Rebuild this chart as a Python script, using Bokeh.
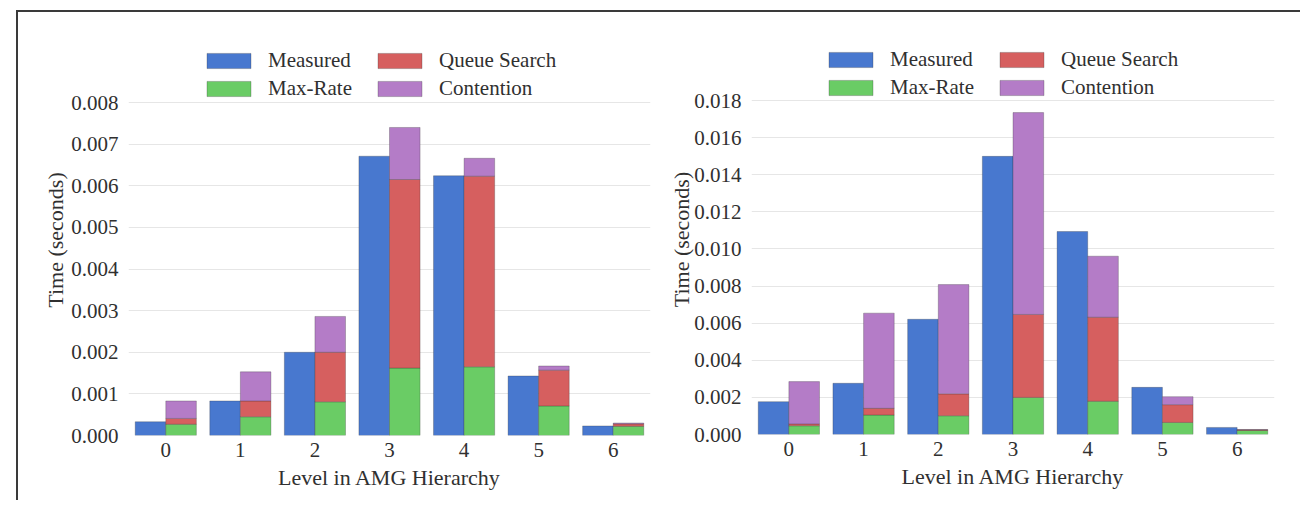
from bokeh.plotting import figure
from bokeh.models import (Legend, LegendItem, FixedTicker, PrintfTickFormatter,
                          ColumnDataSource, Range1d, InlineStyleSheet)
from bokeh.layouts import row
from bokeh.transform import dodge
from bokeh.embed import file_html
from bokeh.resources import INLINE

# ---------------- data ----------------
levels = [0, 1, 2, 3, 4, 5, 6]
level_labels = ["0", "1", "2", "3", "4", "5", "6"]

left_measured = [0.00033, 0.00083, 0.00200, 0.00671, 0.00624, 0.00143, 0.00023]
left_maxrate = [0.00027, 0.00045, 0.00081, 0.00162, 0.00165, 0.00071, 0.00022]
left_queue = [0.00014, 0.00038, 0.00119, 0.00453, 0.00458, 0.00086, 0.00006]
left_contention = [0.00042, 0.00070, 0.00086, 0.00125, 0.00043, 0.00010, 0.00002]
left_yticks = [0.000, 0.001, 0.002, 0.003, 0.004, 0.005, 0.006, 0.007, 0.008]

right_measured = [0.00177, 0.00276, 0.00621, 0.01499, 0.01094, 0.00254, 0.00038]
right_maxrate = [0.00047, 0.00105, 0.00101, 0.00200, 0.00179, 0.00065, 0.00022]
right_queue = [0.00010, 0.00036, 0.00118, 0.00447, 0.00453, 0.00096, 0.00003]
right_contention = [0.00228, 0.00513, 0.00589, 0.01088, 0.00329, 0.00043, 0.00002]
right_yticks = [0.000, 0.002, 0.004, 0.006, 0.008, 0.010, 0.012, 0.014, 0.016, 0.018]

series_names = ["Measured", "Max-Rate", "Queue Search", "Contention"]
x_label = "Level in AMG Hierarchy"
y_label = "Time (seconds)"

# ---------------- style ----------------
BLUE, GREEN, RED, PURPLE = "#4878CF", "#6ACC65", "#D65F5F", "#B47CC7"
TEXT = "#303030"
FONT = "Liberation Serif"


def make_chart(measured, maxrate, queue, contention, yticks, top_tick,
               mb_left, mb_right, fw, fh, tick_span_px, legend_loc, ylab_standoff):
    # extend the y range above the top tick so the legend sits inside the frame
    ymax = top_tick * fh / tick_span_px
    p = figure(x_range=Range1d(-0.5, 6.5), y_range=Range1d(0, ymax),
               frame_width=fw, frame_height=fh,
               min_border_left=mb_left, min_border_right=mb_right,
               min_border_top=44, min_border_bottom=62,
               output_backend="svg", toolbar_location=None)
    p.outline_line_color = None
    p.background_fill_color = "white"
    p.border_fill_color = "white"

    src = ColumnDataSource(dict(level=levels, measured=measured, maxrate=maxrate,
                                queue=queue, contention=contention))
    r_m = p.vbar(x=dodge("level", -0.205), top="measured", width=0.41, source=src,
                 fill_color=BLUE, line_color="#303030", line_alpha=0.35, line_width=0.8)
    rs = p.vbar_stack(["maxrate", "queue", "contention"], x=dodge("level", 0.205),
                      width=0.41, source=src, fill_color=[GREEN, RED, PURPLE],
                      line_color="#303030", line_alpha=0.35, line_width=0.8)

    # axes
    p.xaxis.ticker = FixedTicker(ticks=levels)
    p.xaxis.major_label_overrides = {l: s for l, s in zip(levels, level_labels)}
    p.yaxis.ticker = FixedTicker(ticks=yticks)
    p.yaxis.formatter = PrintfTickFormatter(format="%.3f")
    for ax in (p.xaxis[0], p.yaxis[0]):
        ax.axis_line_color = None
        ax.major_tick_line_color = None
        ax.minor_tick_line_color = None
        ax.major_label_text_font = FONT
        ax.major_label_text_font_size = "21px"
        ax.major_label_text_color = TEXT
        ax.axis_label_text_font = FONT
        ax.axis_label_text_font_size = "22px"
        ax.axis_label_text_font_style = "normal"
        ax.axis_label_text_color = TEXT
    p.xaxis.axis_label = x_label
    p.yaxis.axis_label = y_label
    p.xaxis.major_label_standoff = 1
    p.xaxis.axis_label_standoff = 5
    p.yaxis.major_label_standoff = 4
    p.yaxis.axis_label_standoff = ylab_standoff

    p.xgrid.grid_line_color = None
    p.ygrid.grid_line_color = "#e6e6e6"
    p.ygrid.grid_line_width = 1
    p.ygrid.ticker = FixedTicker(ticks=yticks)

    legend = Legend(items=[
        LegendItem(label=series_names[0], renderers=[r_m]),
        LegendItem(label=series_names[1], renderers=[rs[0]]),
        LegendItem(label=series_names[2], renderers=[rs[1]]),
        LegendItem(label=series_names[3], renderers=[rs[2]]),
    ], location=legend_loc, ncols=2)
    legend.border_line_color = None
    legend.background_fill_alpha = 0
    legend.padding = 0
    legend.margin = 0
    legend.spacing = 3
    legend.glyph_width = 55
    legend.glyph_height = 19
    legend.label_height = 20
    legend.label_width = 101
    legend.label_standoff = 12
    legend.label_text_font = FONT
    legend.label_text_font_size = "21px"
    legend.label_text_color = TEXT
    p.add_layout(legend)
    return p


left = make_chart(left_measured, left_maxrate, left_queue, left_contention,
                  left_yticks, 0.008, 128, 11, 522, 391, 333, (73, 334), 0)
right = make_chart(right_measured, right_maxrate, right_queue, right_contention,
                   right_yticks, 0.018, 90, 10, 523, 390, 334, (72, 334), -3)

frame_css = InlineStyleSheet(css="""
:host::before {
  content: "";
  position: absolute;
  box-sizing: border-box;
  top: 10px;
  left: 16px;
  width: 1284px;
  height: 490px;
  border-top: 2px solid #3a3a3a;
  border-left: 2px solid #3a3a3a;
  pointer-events: none;
  z-index: 10;
}
""")

layout = row(left, right, stylesheets=[frame_css])

open("out.html", "w").write(file_html(layout, INLINE))
